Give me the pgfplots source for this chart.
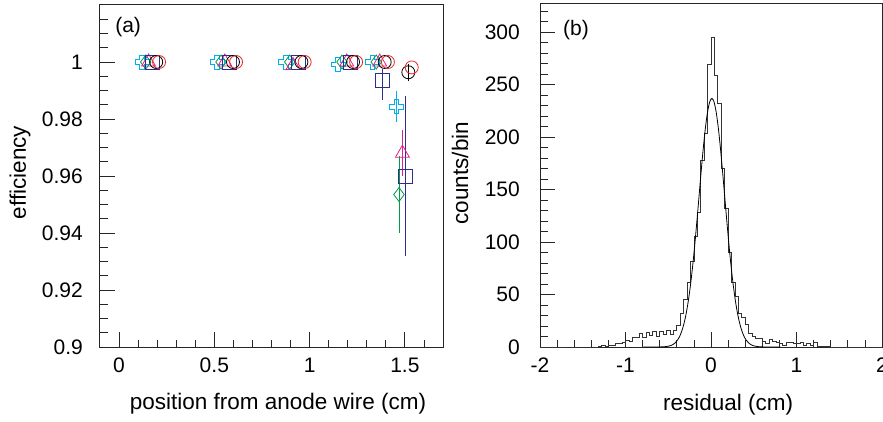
\documentclass[border=0pt]{standalone}
\usepackage{fontspec}
\setmainfont{Liberation Sans}
\usepackage{pgfplots}
\usepackage{pgfplotstable}
\pgfplotsset{compat=1.18}

\definecolor{rcyan}{RGB}{0,175,235}
\definecolor{rgreen}{RGB}{0,155,75}
\definecolor{rmagenta}{RGB}{230,30,140}
\definecolor{rnavy}{RGB}{45,45,140}
\definecolor{rred}{RGB}{235,35,35}

% open cross marker (ROOT style 28)
\pgfdeclareplotmark{ocross}{%
  \pgfpathmoveto{\pgfpoint{-0.33\pgfplotmarksize}{\pgfplotmarksize}}%
  \pgfpathlineto{\pgfpoint{0.33\pgfplotmarksize}{\pgfplotmarksize}}%
  \pgfpathlineto{\pgfpoint{0.33\pgfplotmarksize}{0.33\pgfplotmarksize}}%
  \pgfpathlineto{\pgfpoint{\pgfplotmarksize}{0.33\pgfplotmarksize}}%
  \pgfpathlineto{\pgfpoint{\pgfplotmarksize}{-0.33\pgfplotmarksize}}%
  \pgfpathlineto{\pgfpoint{0.33\pgfplotmarksize}{-0.33\pgfplotmarksize}}%
  \pgfpathlineto{\pgfpoint{0.33\pgfplotmarksize}{-\pgfplotmarksize}}%
  \pgfpathlineto{\pgfpoint{-0.33\pgfplotmarksize}{-\pgfplotmarksize}}%
  \pgfpathlineto{\pgfpoint{-0.33\pgfplotmarksize}{-0.33\pgfplotmarksize}}%
  \pgfpathlineto{\pgfpoint{-\pgfplotmarksize}{-0.33\pgfplotmarksize}}%
  \pgfpathlineto{\pgfpoint{-\pgfplotmarksize}{0.33\pgfplotmarksize}}%
  \pgfpathlineto{\pgfpoint{-0.33\pgfplotmarksize}{0.33\pgfplotmarksize}}%
  \pgfpathclose\pgfusepathqstroke}

% residual histogram, bin width 0.04 cm (left bin edge, counts)
\pgfplotstableread{
x y
-2.00 0
-1.44 0
-1.40 0
-1.36 0
-1.32 1
-1.28 2
-1.24 1
-1.20 2
-1.16 2
-1.12 3
-1.08 3
-1.04 4
-1.00 6
-0.96 5
-0.92 9
-0.88 9
-0.84 13
-0.80 9
-0.76 14
-0.72 11
-0.68 15
-0.64 10
-0.60 15
-0.56 12
-0.52 16
-0.48 12
-0.44 16
-0.40 21
-0.36 32
-0.32 45
-0.28 62
-0.24 82
-0.20 105
-0.16 128
-0.12 178
-0.08 204
-0.04 269
0.00 295
0.04 259
0.08 232
0.12 170
0.16 132
0.20 90
0.24 62
0.28 48
0.32 32
0.36 28
0.40 22
0.44 13
0.48 10
0.52 8
0.56 8
0.60 5
0.64 3
0.68 7
0.72 5
0.76 4
0.80 3
0.84 2
0.88 4
0.92 4
0.96 3
1.00 3
1.04 4
1.08 2
1.12 3
1.16 2
1.20 4
1.24 1
1.28 1
1.32 1
1.36 1
1.40 0
2.00 0
}\histdata

% gaussian fit
\pgfplotstableread{
x y
-0.79 0
-0.69 0.01
-0.59 0.08
-0.54 0.28
-0.49 0.92
-0.465 1.57
-0.44 2.63
-0.415 4.28
-0.39 6.77
-0.365 10.4
-0.34 15.6
-0.315 22.7
-0.29 32.1
-0.265 44.2
-0.24 59.1
-0.215 76.9
-0.19 97.4
-0.165 120.0
-0.14 143.7
-0.115 167.5
-0.09 189.8
-0.065 209.2
-0.04 224.2
-0.015 233.7
0.01 237
0.035 233.7
0.06 224.2
0.085 209.2
0.11 189.8
0.135 167.5
0.16 143.7
0.185 120.0
0.21 97.4
0.235 76.9
0.26 59.1
0.285 44.2
0.31 32.1
0.335 22.7
0.36 15.6
0.385 10.4
0.41 6.77
0.435 4.28
0.46 2.63
0.485 1.57
0.51 0.92
0.56 0.28
0.61 0.08
0.71 0.01
0.81 0
}\fitdata

\pgfplotsset{
  rootaxis/.style={
    scale only axis, anchor=south west,
    axis line style={line width=1pt, black!85},
    tick align=inside, xtick pos=left, ytick pos=left,
    major tick length=15pt, minor tick length=7.5pt,
    every tick/.style={black!85, line width=0.8pt},
    tick label style={font=\fontsize{21}{24}\selectfont, inner sep=0pt},
    label style={font=\fontsize{22.5}{26}\selectfont},
    /pgf/number format/assume math mode=true,
    scaled ticks=false,
    xticklabel shift=11pt,
  },
  rootpts/.style={only marks, line width=0.8pt,
    error bars/y dir=both, error bars/y explicit, error bars/error mark=none,
    error bars/error bar style={line width=0.8pt}},
}

\begin{document}
\begin{tikzpicture}
\useasboundingbox (0pt,0pt) rectangle (883pt,421pt);

\begin{axis}[rootaxis,
  at={(100pt,74pt)}, width=343pt, height=342pt,
  xmin=-0.1, xmax=1.7, ymin=0.9, ymax=1.02,
  xtick={0,0.5,1,1.5},
  minor xtick={0.1,0.2,0.3,0.4,0.6,0.7,0.8,0.9,1.1,1.2,1.3,1.4,1.6},
  ytick={0.9,0.92,0.94,0.96,0.98,1},
  minor ytick={0.905,0.91,0.915,0.925,0.93,0.935,0.945,0.95,0.955,0.965,0.97,0.975,0.985,0.99,0.995,1.005,1.01,1.015},
  yticklabel shift=17pt,
  xlabel={position from anode wire (cm)},
  ylabel={efficiency},
  xlabel style={at={(axis description cs:0.519,-0.167)}, anchor=center},
  ylabel style={at={(axis description cs:-0.233,0.51)}, anchor=center},
]
\addplot[rcyan, rootpts, mark=ocross, mark size=7pt] coordinates {
  (0.12,1) +- (0,0) (0.515,1) +- (0,0) (0.875,1) +- (0,0)
  (1.15,0.9991) +- (0,0) (1.33,1) +- (0,0) (1.455,0.9843) +- (0,0.0055)};
\addplot[rgreen, rootpts, mark=diamond, mark size=7pt] coordinates {
  (0.14,1) +- (0,0) (0.535,1) +- (0,0) (0.896,1) +- (0,0)
  (1.17,1) +- (0,0) (1.35,1) +- (0,0) (1.469,0.9535) +- (0,0.0135)};
\addplot[rmagenta, rootpts, mark=triangle, mark size=8pt] coordinates {
  (0.155,1) +- (0,0) (0.555,1) +- (0,0) (0.913,0.9988) +- (0,0)
  (1.195,1) +- (0,0) (1.368,1) +- (0,0) (1.487,0.968) +- (0,0.008)};
\addplot[rnavy, rootpts, mark=square, mark size=7pt] coordinates {
  (0.175,1) +- (0,0) (0.58,1) +- (0,0) (0.94,1) +- (0,0)
  (1.215,1) +- (0,0) (1.382,0.9934) += (0,0.0041) -= (0,0.0067)
  (1.503,0.96) +- (0,0.028)};
\addplot[black, rootpts, mark=o, mark size=6.5pt] coordinates {
  (0.195,1) +- (0,0) (0.598,1) +- (0,0) (0.957,1) +- (0,0)
  (1.228,1) +- (0,0) (1.394,1) +- (0,0) (1.518,0.9964) +- (0,0.003)};
\addplot[rred, rootpts, mark=o, mark size=6.5pt] coordinates {
  (0.21,1) +- (0,0) (0.614,1) +- (0,0) (0.974,1) +- (0,0)
  (1.244,1) +- (0,0) (1.411,1) +- (0,0) (1.536,0.9981) +- (0,0)};
\node[anchor=west, font=\fontsize{21}{24}\selectfont, inner sep=0pt]
  at (axis description cs:0.044,0.936) {(a)};
\end{axis}

\begin{axis}[rootaxis,
  at={(540pt,74pt)}, width=342pt, height=343pt,
  xmin=-2, xmax=2, ymin=0, ymax=327,
  xtick={-2,-1,0,1,2},
  minor xtick={-1.8,-1.6,-1.4,-1.2,-0.8,-0.6,-0.4,-0.2,0.2,0.4,0.6,0.8,1.2,1.4,1.6,1.8},
  ytick={0,50,100,150,200,250,300},
  minor ytick={10,20,30,40,60,70,80,90,110,120,130,140,160,170,180,190,210,220,230,240,260,270,280,290,310,320},
  yticklabel shift=20pt,
  xlabel={residual (cm)},
  ylabel={counts/bin},
  xlabel style={at={(axis description cs:0.55,-0.167)}, anchor=center},
  ylabel style={at={(axis description cs:-0.234,0.507)}, anchor=center},
]
\addplot[const plot mark left, black!80, line width=0.8pt] table {\histdata};
\addplot[black, line width=0.8pt, smooth] table {\fitdata};
\node[anchor=west, font=\fontsize{21}{24}\selectfont, inner sep=0pt]
  at (axis description cs:0.067,0.924) {(b)};
\end{axis}
\end{tikzpicture}
\end{document}
